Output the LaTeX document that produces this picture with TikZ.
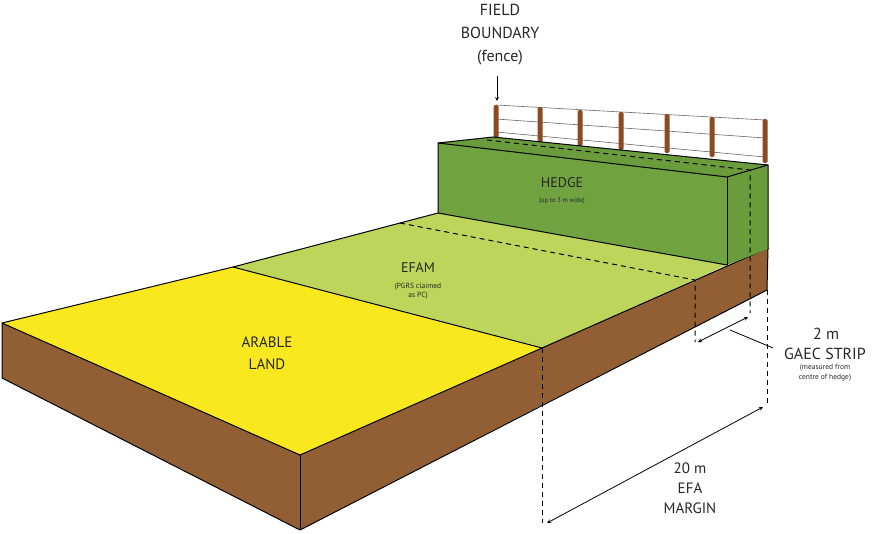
\documentclass[tikz,border=0pt]{standalone}
\usepackage{fontspec}
\setmainfont{PT Sans}
\begin{document}
\begin{tikzpicture}[x=1pt,y=-1pt,line join=round,
  face/.style={draw=black,line width=1pt},
  dsh/.style={dashed,dash pattern=on 5pt off 4pt,line width=1pt},
  post/.style={draw=none,fill=postc,rounded corners=1pt},
  wire/.style={draw=black!60,line width=0.6pt},
  lbl/.style={align=center,inner sep=0pt,text=black!85},
  arr/.style={<->,>=stealth,line width=0.8pt}]
\definecolor{yel}{HTML}{F9E81E}
\definecolor{lgr}{HTML}{BDD55A}
\definecolor{hgr}{HTML}{70A33F}
\definecolor{hgr2}{HTML}{6A9C3B}
\definecolor{brn}{HTML}{925F34}
\definecolor{postc}{HTML}{8A4A24}
\useasboundingbox (0,0) rectangle (874,533);
% fence wires
\draw[wire] (496,105) -- (765,120);
\draw[wire] (496,119) -- (765,138);
\draw[wire] (496,132) -- (765,157);
\foreach \x/\t/\b in {496/105/138,540/107/143,580/110/146,621/112/150,667/114/153,712/117/157,765/119/163}
  \fill[postc,rounded corners=1.5pt] (\x-2.5,\t) rectangle (\x+2.5,\b);
% block sides
\fill[brn] (2,323) -- (300,455) -- (300,530) -- (2,378) -- cycle;
\fill[brn] (300,455) -- (542,348) -- (768,248) -- (767,290) -- (542,405) -- (300,530) -- cycle;
\draw[face] (2,323) -- (2,378) -- (300,530) -- (767,290) -- (768,248);
\draw[face] (300,455) -- (300,530);
% top surfaces
\fill[yel] (2,323) -- (233,267) -- (542,348) -- (300,455) -- cycle;
\fill[lgr] (233,267) -- (438,213) -- (727,265) -- (542,348) -- cycle;
\draw[face] (2,323) -- (233,267) -- (438,213);
\draw[face] (2,323) -- (300,455) -- (542,348) -- (768,248);
\draw[face] (233,267) -- (542,348);
% hedge
\fill[hgr] (438,143) -- (727,177) -- (727,265) -- (438,213) -- cycle;
\fill[hgr2] (727,177) -- (768,165) -- (768,249) -- (727,265) -- cycle;
\fill[hgr2] (438,143) -- (493,137) -- (768,165) -- (727,177) -- cycle;
\draw[face] (438,213) -- (438,143) -- (493,137) -- (768,165) -- (768,249);
\draw[face] (438,143) -- (727,177) -- (768,165);
\draw[face] (727,177) -- (727,265);
\draw[face] (438,213) -- (727,265);
% dashed lines
\draw[dsh] (487,140) -- (750,170) -- (750,313);
\draw[dsh] (400,223) -- (695,280) -- (695,342);
\draw[dsh] (542,348) -- (542,523);
\draw[dsh] (767,290) -- (767,405);
% arrows
\coordinate (a1) at (698,342); \coordinate (a2) at (748,317);
\draw[arr] (a1) -- (a2);
\coordinate (b1) at (547,523); \coordinate (b2) at (763,407);
\draw[arr] (b1) -- (b2);
\coordinate (l1) at (730,330); \coordinate (l2) at (773,348);
\draw[line width=0.8pt] (l1) -- (l2);
\coordinate (f1) at (497,76); \coordinate (f2) at (497,101);
\draw[->,>=stealth,line width=0.8pt] (f1) -- (f2);
% labels
\node[lbl,font=\fontsize{16}{23}\selectfont] (fb) at (500,35) {FIELD\\BOUNDARY\\(fence)};
\node[lbl,font=\fontsize{14}{16}\selectfont] (hd) at (562,183) {HEDGE};
\node[lbl,font=\fontsize{6.5}{8}\selectfont] (hd2) at (562,201) {(up to 3 m wide)};
\node[lbl,font=\fontsize{14}{16}\selectfont] (ef) at (418,268) {EFAM};
\node[lbl,font=\fontsize{7.5}{9}\selectfont] (ef2) at (418,291) {(PGRS claimed\\as PC)};
\node[lbl,font=\fontsize{15}{22}\selectfont] (ar) at (267,353) {ARABLE\\LAND};
\node[lbl,font=\fontsize{16}{19}\selectfont] (gs1) at (826,334) {2 m};
\node[lbl,font=\fontsize{16}{19}\selectfont] (gs2) at (825,354) {GAEC STRIP};
\node[lbl,font=\fontsize{7.5}{10}\selectfont] (gs3) at (825,373) {(measured from\\centre of hedge)};
\node[lbl,font=\fontsize{15}{20}\selectfont] (em) at (690,488) {20 m\\EFA\\MARGIN};
\end{tikzpicture}
\end{document}
